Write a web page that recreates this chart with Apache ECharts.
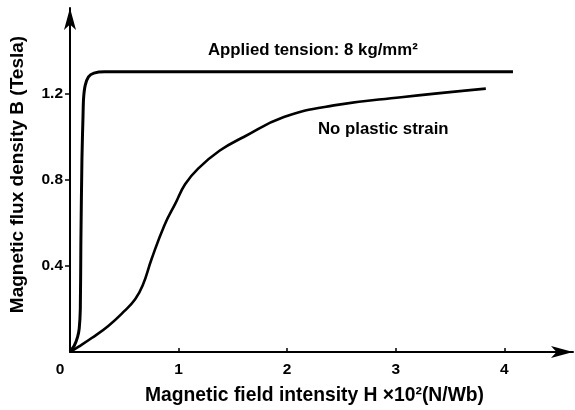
<!DOCTYPE html>
<html><head><meta charset="utf-8">
<script src="https://cdn.jsdelivr.net/npm/echarts@6/dist/echarts.min.js"></script>
<style>html,body{margin:0;padding:0;background:#fff}#c{width:575px;height:410px}</style>
</head><body><div id="c"></div>
<script>
// Data: H (×10² N/Wb), B (Tesla)
var tensionH = [0, 0.04, 0.07, 0.085, 0.095, 0.1, 0.11, 0.12, 0.125, 0.14, 0.17, 0.22, 0.32, 1.0, 2.0, 3.0, 4.08];
var tensionB = [0, 0.03, 0.07, 0.11, 0.2, 0.5, 0.9, 1.1, 1.18, 1.24, 1.28, 1.297, 1.303, 1.303, 1.303, 1.303, 1.303];
var strainH = [0, 0.08, 0.2, 0.35, 0.5, 0.6, 0.67, 0.75, 0.87, 0.97, 1.06, 1.18, 1.38, 1.6, 1.97, 2.43, 3.05, 3.83];
var strainB = [0, 0.025, 0.065, 0.12, 0.19, 0.245, 0.31, 0.43, 0.59, 0.69, 0.78, 0.853, 0.937, 1.0, 1.093, 1.147, 1.185, 1.225];
var xTicks = [0, 1, 2, 3, 4];
var yTicks = [0.4, 0.8, 1.2];
var labelTension = 'Applied tension: 8 kg/mm²';
var labelStrain = 'No plastic strain';
var xTitle = 'Magnetic field intensity H ×10²(N/Wb)';
var yTitle = 'Magnetic flux density B (Tesla)';

function pairs(a, b) { return a.map(function (v, i) { return [v, b[i]]; }); }
var FONT = 'Liberation Sans';
var chart = echarts.init(document.getElementById('c'), null, {renderer: 'canvas'});
chart.setOption({
  animation: false,
  backgroundColor: '#fff',
  grid: {left: 68, right: 2, top: 8, bottom: 46, containLabel: false},
  xAxis: {
    type: 'value', min: 0, max: 4.633, interval: 1,
    axisLine: {lineStyle: {color: '#000', width: 2}, symbol: ['none', 'arrow'], symbolSize: [9, 22], symbolOffset: [0, 0]},
    axisTick: {show: true, inside: true, length: 4, lineStyle: {color: '#000', width: 1.5}},
    splitLine: {show: false},
    axisLabel: {
      margin: 10, color: '#000', fontFamily: FONT, fontWeight: 'bold', fontSize: 15.5,
      showMaxLabel: false,
      formatter: function (v) {
        if (xTicks.indexOf(v) < 0) return '';
        return v === 0 ? '{z|0}' : String(v);
      },
      rich: {z: {padding: [0, 20, 6, 0], fontFamily: FONT, fontWeight: 'bold', fontSize: 15.5, color: '#000'}}
    },
    name: xTitle, nameLocation: 'middle', nameGap: 34,
    nameTextStyle: {color: '#000', fontFamily: FONT, fontWeight: 'bold', fontSize: 19.3, padding: [0, 14, 0, 0]}
  },
  yAxis: {
    type: 'value', min: 0, max: 1.6, interval: 0.4,
    axisLine: {lineStyle: {color: '#000', width: 2}, symbol: ['none', 'arrow'], symbolSize: [9, 22], symbolOffset: [0, 0]},
    axisTick: {show: true, length: 5, lineStyle: {color: '#000', width: 1.5},
      customValues: yTicks},
    splitLine: {show: false},
    axisLabel: {
      margin: 7, color: '#000', fontFamily: FONT, fontWeight: 'bold', fontSize: 15.5,
      customValues: yTicks,
      formatter: function (v) { return v.toFixed(1); }
    },
    name: yTitle, nameLocation: 'middle', nameGap: 43,
    nameTextStyle: {color: '#000', fontFamily: FONT, fontWeight: 'bold', fontSize: 19, padding: [0, 0, 0, 11]}
  },
  series: [
    {type: 'line', data: pairs(tensionH, tensionB), showSymbol: false, smooth: 0.25,
      lineStyle: {color: '#000', width: 3}},
    {type: 'line', data: pairs(strainH, strainB), showSymbol: false, smooth: 0.45,
      lineStyle: {color: '#000', width: 2.6}}
  ],
  graphic: [
    {type: 'text', left: 208, top: 42, style: {text: labelTension, fill: '#000', font: 'bold 16.8px "Liberation Sans"'}},
    {type: 'text', left: 318, top: 121, style: {text: labelStrain, fill: '#000', font: 'bold 16.8px "Liberation Sans"'}}
  ]
});
</script></body></html>
